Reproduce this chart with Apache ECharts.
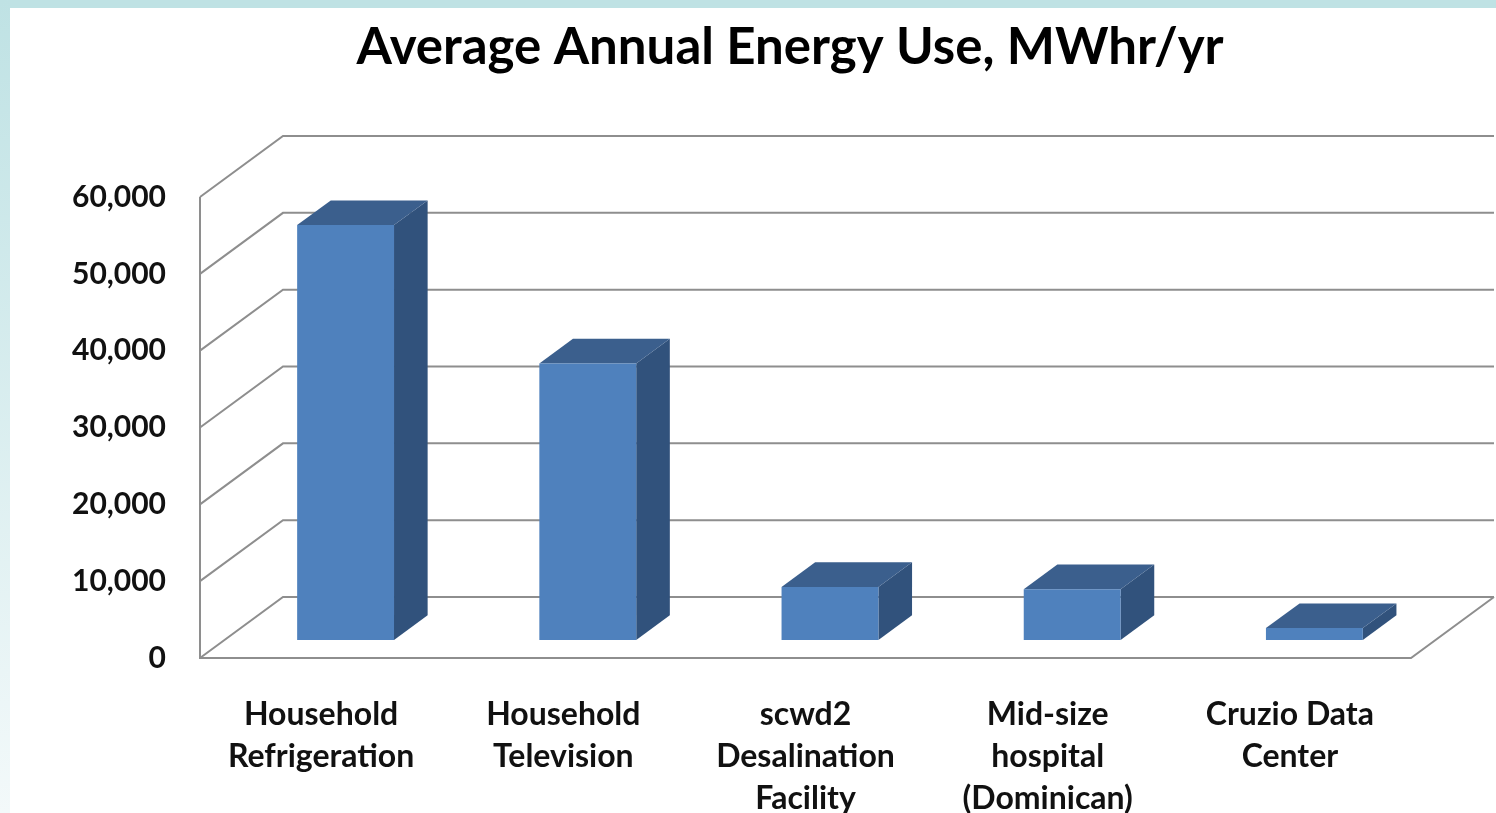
<!DOCTYPE html>
<html>
<head>
<meta charset="utf-8">
<script src="https://cdn.jsdelivr.net/npm/echarts@6/dist/echarts.min.js"></script>
<style>
html,body{margin:0;padding:0;background:#fff;}
#chart{width:1496px;height:813px;}
</style>
</head>
<body>
<div id="chart"></div>
<script>
const categories = ['Household\nRefrigeration', 'Household\nTelevision', 'scwd2\nDesalination\nFacility', 'Mid-size\nhospital\n(Dominican)', 'Cruzio Data\nCenter'];
const energyUse = [54000, 36000, 6900, 6600, 1550];
const yTicks = [0, 10000, 20000, 30000, 40000, 50000, 60000];
const titleText = 'Average Annual Energy Use, MWhr/yr';

const DX = 83, DY = -61;       // floor depth offset
const T0 = 0.295, T1 = 0.70;   // bar front/back depth fraction
const GRID_COLOR = '#8e8e8e';
const FONT = 'Lato';

function fmt(v){ return String(v).replace(/\B(?=(\d{3})+(?!\d))/g, ','); }

const chart = echarts.init(document.getElementById('chart'), null, {renderer:'canvas'});
const option = {
  backgroundColor: '#ffffff',
  animation: false,
  title: {
    text: titleText,
    left: 785, top: 17, textAlign: 'center',
    textStyle: {fontFamily: FONT, fontSize: 51, fontWeight: 'bold', color: '#000'}
  },
  graphic: [
    {type:'rect', shape:{x:0,y:0,width:1496,height:8}, style:{fill:'#bfe2e4'}, silent:true},
    {type:'rect', shape:{x:0,y:0,width:10,height:813}, style:{fill:{type:'linear',x:0,y:0,x2:0,y2:1,colorStops:[{offset:0,color:'#bfe2e4'},{offset:1,color:'#f3f9fa'}]}}, silent:true}
  ],
  grid: {left: 200, right: 85, top: 197, bottom: 155, outerBoundsMode: 'none', containLabel: false},
  xAxis: {
    type: 'category', data: categories,
    axisLine: {show:false}, axisTick: {show:false}, splitLine:{show:false},
    axisLabel: {margin: 36, fontFamily: FONT, fontSize: 32, fontWeight: 'bold', color: '#111', lineHeight: 42, interval: 0}
  },
  yAxis: {
    type: 'value', min: 0, max: 60000, interval: 10000,
    axisLine: {show:false}, axisTick:{show:false}, splitLine:{show:false},
    axisLabel: {margin: 34, fontFamily: FONT, fontSize: 30, fontWeight: 'bold', color: '#111', formatter: v => fmt(v)}
  },
  series: [
    {
      type: 'custom', name: 'walls', silent: true, z: 1,
      data: yTicks.map(v => [0, v]),
      renderItem: function(params, api){
        const cs = params.coordSys;
        const v = api.value(1);
        const y = api.coord([0, v])[1];
        const x0 = cs.x, x1 = cs.x + cs.width;
        const children = [{
          type:'polyline', shape:{points:[[x0,y],[x0+DX,y+DY],[x1+DX,y+DY]]},
          style:{stroke:GRID_COLOR, lineWidth:2, fill:null}
        }];
        if (v === 0) {
          const yTop = api.coord([0, yTicks[yTicks.length-1]])[1];
          children.push({type:'polyline', shape:{points:[[x0,yTop],[x0,y],[x1,y],[x1+DX,y+DY]]}, style:{stroke:GRID_COLOR, lineWidth:2, fill:null}});
        }
        return {type:'group', children: children};
      }
    },
    {
      type: 'custom', name: 'Energy use', z: 2,
      data: energyUse.map((v,i) => [i, v]),
      encode: {x: 0, y: 1},
      renderItem: function(params, api){
        const i = api.value(0), v = api.value(1);
        const top = api.coord([i, v]);
        const base = api.coord([i, 0]);
        const w = api.size([1, 0])[0] * 0.4;
        const ox = DX * T0, oy = DY * T0;
        const dx = DX * (T1 - T0), dy = DY * (T1 - T0);
        const xl = top[0] + ox - w/2, xr = top[0] + ox + w/2;
        const yt = top[1] + oy, yb = base[1] + oy;
        return {type:'group', children:[
          {type:'polygon', shape:{points:[[xr,yt],[xr+dx,yt+dy],[xr+dx,yb+dy],[xr,yb]]}, style:{fill:'#31527c'}},
          {type:'polygon', shape:{points:[[xl,yt],[xr,yt],[xr+dx,yt+dy],[xl+dx,yt+dy]]}, style:{fill:'#3b5f8d'}},
          {type:'rect', shape:{x:xl, y:yt, width:xr-xl, height:yb-yt}, style:{fill:'#4f81bd'}}
        ]};
      }
    }
  ]
};
chart.setOption(option);
</script>
</body>
</html>
